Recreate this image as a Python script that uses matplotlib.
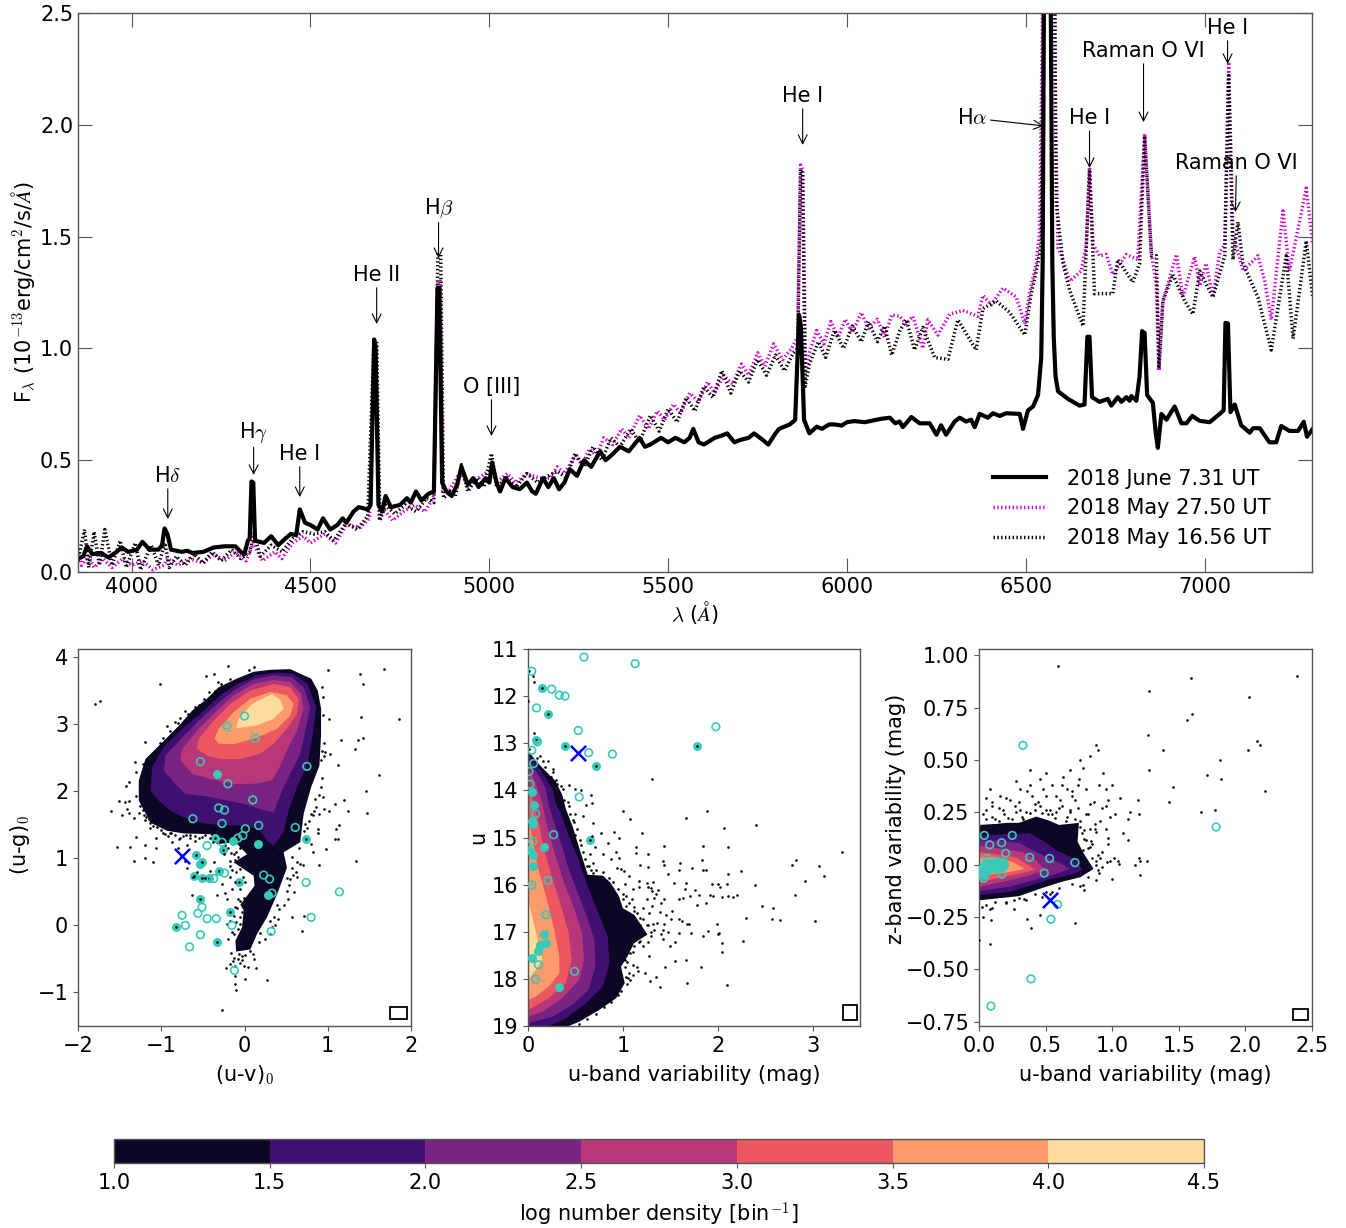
import numpy as np
import matplotlib
matplotlib.use('Agg')
import matplotlib.pyplot as plt
from matplotlib.colors import ListedColormap, BoundaryNorm
from matplotlib.cm import ScalarMappable
from matplotlib.patches import Rectangle

plt.rcParams['font.size'] = 15
plt.rcParams['mathtext.fontset'] = 'cm'
for k in ['axes.edgecolor', 'xtick.color', 'ytick.color']:
    plt.rcParams[k] = '#555555'
plt.rcParams['xtick.labelcolor'] = 'k'
plt.rcParams['ytick.labelcolor'] = 'k'
plt.rcParams['axes.linewidth'] = 1.0

W, H = 1346, 1228

# spectra: wavelength (A), flux
june = np.array([
    (3850,.06),(3865,.07),(3875,.115),(3890,.08),(3915,.085),(3935,.065),(3958,.09),(3972,.11),(3990,.09),(4015,.10),
    (4030,.135),(4050,.10),(4075,.10),(4085,.12),(4092,.195),(4100,.17),(4110,.10),(4125,.095),(4140,.09),(4155,.095),(4170,.085),(4200,.09),
    (4230,.11),(4260,.115),(4290,.115),(4305,.09),(4315,.08),(4325,.14),(4330,.15),(4335,.405),(4340,.40),(4345,.14),(4370,.13),
    (4390,.16),(4410,.12),(4430,.15),(4445,.17),(4460,.165),(4470,.28),(4485,.22),(4500,.21),(4520,.19),(4535,.24),
    (4555,.19),(4575,.21),(4590,.24),(4600,.22),(4620,.27),(4635,.29),(4660,.28),(4668,.30),(4678,1.04),(4682,1.0),
    (4690,.30),(4700,.27),(4710,.34),(4725,.29),(4750,.30),(4770,.33),(4780,.31),(4795,.36),(4810,.32),(4830,.35),
    (4845,.36),(4855,1.27),(4860,1.27),(4868,.40),(4880,.36),(4895,.34),(4910,.39),(4922,.47),(4940,.39),(4955,.42),
    (4970,.38),(4990,.42),(5000,.40),(5008,.49),(5020,.40),(5030,.36),(5045,.42),(5065,.38),(5085,.37),(5105,.40),
    (5120,.36),(5130,.35),(5150,.42),(5165,.38),(5180,.42),(5195,.37),(5210,.40),(5225,.46),(5245,.43),(5265,.50),
    (5285,.47),(5310,.54),(5325,.50),(5340,.52),(5365,.56),(5390,.54),(5420,.60),(5435,.56),(5450,.57),(5480,.60),(5500,.58),(5520,.60),(5545,.58),
    (5560,.60),(5570,.64),(5585,.58),(5600,.57),(5630,.60),(5650,.61),(5665,.62),(5685,.58),(5700,.59),(5725,.60),(5740,.62),(5765,.59),(5780,.57),(5800,.62),(5810,.64),(5840,.66),(5855,.68),
    (5866,1.15),(5871,1.10),(5880,.68),(5895,.62),(5915,.65),(5930,.64),(5950,.66),(5965,.66),(5985,.655),(6000,.67),(6020,.675),(6050,.67),(6080,.68),(6095,.685),(6120,.69),(6135,.665),
    (6147,.673),(6156,.648),(6180,.693),(6203,.665),(6231,.665),(6250,.614),(6263,.656),(6277,.614),(6301,.673),(6315,.690),
    (6333,.673),(6347,.681),(6357,.648),(6371,.707),(6394,.690),(6408,.710),(6427,.698),(6445,.710),(6483,.707),(6492,.640),
    (6506,.723),(6520,.740),(6534,.791),(6543,.959),(6547,1.38),(6552,3.0),(6557,4.0),(6568,3.0),(6574,1.38),(6578,1.05),(6583,.875),(6590,.808),(6604,.791),
    (6618,.774),(6650,.744),(6664,.749),(6672,1.052),(6678,1.052),(6685,.782),(6706,.761),(6729,.774),(6739,.744),(6757,.782),
    (6767,.761),(6781,.782),(6790,.766),(6795,.787),(6809,.766),(6818,.875),(6825,1.077),(6832,1.069),(6839,.791),(6855,.757),
    (6863,.623),(6869,.555),(6879,.707),(6893,.681),(6916,.740),(6935,.665),(6949,.665),(6965,.698),(6986,.676),(7014,.670),
    (7042,.707),(7053,.723),(7058,1.114),(7065,1.111),(7072,.715),(7084,.749),(7102,.656),(7126,.623),(7135,.643),(7154,.643),
    (7181,.580),(7200,.580),(7214,.653),(7237,.631),(7261,.631),(7277,.672),(7286,.605),(7302,.640)])

may27 = np.array([
    (3850,.10),(3860,.03),(3880,.07),(3895,.02),(3920,.06),(3945,.02),(3975,.06),(4000,.03),(4030,.05),(4060,.01),
    (4090,.03),(4100,.06),(4130,.03),(4160,.06),(4200,.04),(4230,.08),(4260,.05),(4290,.09),(4320,.05),(4340,.13),
    (4365,.05),(4400,.09),(4420,.06),(4450,.13),(4480,.16),(4500,.13),(4540,.17),(4570,.13),(4600,.21),(4640,.20),
    (4665,.24),(4678,1.0),(4684,1.02),(4692,.24),(4705,.28),(4730,.23),(4760,.27),(4790,.30),(4820,.27),(4845,.34),
    (4856,1.3),(4863,1.3),(4870,.36),(4890,.37),(4920,.45),(4940,.38),(4970,.42),(5005,.46),(5020,.40),(5050,.44),
    (5075,.40),(5105,.44),(5140,.42),(5170,.42),(5190,.47),(5210,.44),(5240,.52),(5260,.48),(5280,.55),(5300,.52),
    (5320,.60),(5345,.57),(5370,.64),(5390,.60),(5420,.70),(5445,.64),(5470,.72),(5490,.68),(5515,.75),(5535,.71),
    (5560,.80),(5585,.76),(5610,.85),(5630,.80),(5655,.88),(5680,.84),(5705,.93),(5725,.88),(5750,.98),(5770,.92),
    (5795,1.02),(5820,.95),(5845,1.0),(5862,1.05),(5870,1.82),(5876,1.80),(5884,.90),(5895,.98),(5915,1.08),(5935,1.02),
    (5955,1.12),(5975,1.05),(5995,1.13),(6015,1.07),(6040,1.16),(6060,1.09),(6085,1.13),(6105,1.05),(6125,1.15),
    (6147,1.144),(6166,1.11),(6184,1.144),(6212,1.0),(6226,1.128),(6254,1.06),(6287,1.153),(6324,1.17),(6366,1.144),(6380,1.237),
    (6403,1.195),(6436,1.27),(6473,1.23),(6497,1.11),(6510,1.245),(6529,1.38),(6538,1.515),(6546,2.4),(6552,4.0),(6578,4.0),
    (6583,2.0),(6590,1.45),(6604,1.397),(6622,1.30),(6655,1.346),(6669,1.464),(6678,1.81),(6688,1.464),(6706,1.414),(6725,1.42),
    (6743,1.33),(6781,1.42),(6813,1.397),(6832,1.96),(6851,1.43),(6865,1.28),(6872,.90),(6883,1.21),(6921,1.42),(6939,1.23),
    (6972,1.41),(6986,1.28),(7004,1.38),(7023,1.23),(7042,1.43),(7056,1.464),(7067,2.28),(7079,1.515),(7107,1.346),(7149,1.414),
    (7168,1.30),(7186,1.128),(7219,1.615),(7237,1.346),(7284,1.717),(7302,1.464)])

may16 = np.array([
    (3850,.05),(3868,.19),(3880,.02),(3895,.18),(3910,.03),(3925,.19),(3945,.03),(3968,.14),(3985,.02),(4010,.13),
    (4025,.01),(4055,.12),(4075,.03),(4093,.13),(4105,.02),(4125,.07),(4150,.03),(4175,.08),(4200,.04),(4225,.09),
    (4250,.05),(4280,.10),(4305,.06),(4330,.09),(4342,.17),(4360,.07),(4390,.12),(4420,.09),(4450,.15),(4480,.18),
    (4510,.17),(4540,.18),(4565,.14),(4600,.22),(4630,.19),(4660,.25),(4677,1.02),(4685,1.03),(4694,.23),(4710,.30),
    (4735,.26),(4765,.30),(4795,.27),(4825,.33),(4845,.31),(4856,1.42),(4864,1.42),(4872,.33),(4890,.36),(4905,.34),
    (4922,.48),(4940,.36),(4965,.42),(4985,.38),(5006,.53),(5020,.38),(5050,.42),(5075,.38),(5105,.44),(5135,.40),
    (5165,.43),(5190,.45),(5215,.42),(5240,.53),(5265,.47),(5290,.56),(5315,.50),(5340,.60),(5365,.56),(5395,.64),
    (5420,.58),(5450,.70),(5475,.63),(5500,.73),(5525,.67),(5550,.78),(5575,.72),(5600,.83),(5625,.78),(5650,.90),
    (5675,.80),(5700,.90),(5725,.85),(5750,.95),(5775,.88),(5800,.97),(5825,.90),(5850,.98),(5862,1.0),(5870,1.80),
    (5876,1.78),(5883,.83),(5895,.93),(5920,1.03),(5940,.96),(5965,1.08),(5990,1.0),(6015,1.10),(6040,1.03),(6060,1.12),
    (6085,1.03),(6105,1.10),(6125,.97),(6147,1.077),(6166,1.128),(6189,.993),(6212,1.094),(6245,.959),(6282,.951),(6310,1.128),
    (6361,.993),(6380,1.178),(6417,1.212),(6455,1.161),(6497,1.06),(6515,1.245),(6529,1.346),(6543,1.464),(6548,2.4),(6553,4.0),
    (6578,4.0),(6581,2.4),(6585,1.65),(6604,1.38),(6622,1.262),(6660,1.10),(6667,1.38),(6678,1.80),(6692,1.245),(6720,1.245),
    (6743,1.245),(6757,1.397),(6799,1.296),(6818,1.38),(6832,1.95),(6851,1.414),(6865,1.414),(6872,.91),(6883,1.212),(6911,1.33),
    (6944,1.212),(6967,1.153),(6986,1.346),(7023,1.228),(7056,1.414),(7067,2.22),(7079,1.397),(7093,1.565),(7107,1.38),(7149,1.228),
    (7186,.993),(7228,1.414),(7247,1.043),(7284,1.481),(7302,1.228)])

# line label, text x, text y, tip x, tip y
line_labels = [
    ('H$\\delta$', 4101, .429, 4101, .237),
    ('H$\\gamma$', 4341, .626, 4341, .434),
    ('He I', 4470, .528, 4470, .335),
    ('He II', 4685, 1.328, 4685, 1.109),
    ('H$\\beta$', 4858, 1.628, 4858, 1.404),
    ('O [III]', 5006, .827, 5006, .608),
    ('He I', 5876, 2.129, 5876, 1.91),
    ('H$\\alpha$', 6351, 2.03, 6550, 1.995),
    ('He I', 6678, 2.03, 6678, 1.807),
    ('Raman O VI', 6829, 2.33, 6829, 2.012),
    ('He I', 7064, 2.433, 7064, 2.272),
    ('Raman O VI', 7089, 1.829, 7086, 1.61),
]

levels = [1.0, 1.5, 2.0, 2.5, 3.0, 3.5, 4.0, 4.5]
level_colors = ['#0b0724', '#3f0f72', '#7b2382', '#b73779', '#ec5760', '#fd9b6b', '#fddc9e']

# density regions of the u-g / u-v panel, one per level
cc_regions = [
    [(-1.27,2.16),(-1.19,2.48),(-.97,2.75),(-.77,3.00),(-.63,3.20),(-.45,3.38),(-.31,3.55),(-.09,3.68),(.11,3.78),(.31,3.81),
     (.55,3.82),(.67,3.75),(.80,3.68),(.88,3.50),(.92,3.23),(.92,2.85),(.90,2.38),(.80,2.06),(.71,1.66),(.67,1.24),(.47,1.09),
     (.51,.86),(.39,.46),(.27,.12),(.15,-.13),(.07,-.36),(-.10,-.39),(-.11,-.23),(-.03,-.03),(-.01,.22),(-.05,.31),(.03,.44),
     (.12,.59),(.11,.74),(-.13,.94),(.03,1.06),(-.11,1.24),(-.33,1.21),(-.41,1.36),(-.73,1.37),(-.93,1.41),(-1.13,1.53),(-1.27,1.86)],
    [(-1.13,2.01),(-1.11,2.36),(-.97,2.66),(-.73,2.95),(-.49,3.20),(-.29,3.43),(-.09,3.60),(.15,3.73),(.39,3.77),(.59,3.75),
     (.76,3.60),(.86,3.25),(.82,2.85),(.76,2.41),(.63,2.06),(.53,1.71),(.47,1.39),(.35,1.19),(.27,1.26),(.17,1.44),(-.05,1.49),
     (-.25,1.49),(-.49,1.52),(-.73,1.61),(-.89,1.71),(-1.03,1.86)],
    [(-.97,2.31),(-.95,2.53),(-.75,2.80),(-.55,3.05),(-.33,3.30),(-.13,3.50),(.09,3.66),(.35,3.73),(.57,3.70),(.71,3.55),
     (.79,3.25),(.73,2.90),(.67,2.56),(.55,2.26),(.45,2.01),(.35,1.68),(.19,1.73),(-.01,1.81),(-.21,1.86),(-.49,1.93),(-.71,1.96),(-.85,2.13)],
    [(-.77,2.46),(-.75,2.63),(-.55,2.93),(-.33,3.20),(-.13,3.43),(.11,3.60),(.35,3.66),(.55,3.63),(.68,3.45),(.71,3.23),
     (.63,2.90),(.51,2.61),(.41,2.33),(.33,2.16),(.11,2.11),(-.13,2.11),(-.41,2.18),(-.63,2.26)],
    [(-.57,2.63),(-.55,2.78),(-.37,3.05),(-.17,3.30),(.07,3.50),(.35,3.60),(.55,3.55),(.65,3.38),(.63,3.15),(.51,2.93),
     (.35,2.71),(.19,2.56),(-.05,2.48),(-.29,2.48),(-.45,2.53)],
    [(-.36,2.78),(-.31,2.93),(-.13,3.18),(.07,3.38),(.31,3.48),(.51,3.43),(.59,3.30),(.55,3.13),(.39,2.93),(.15,2.80),(-.13,2.70),(-.31,2.71)],
    [(-.10,2.94),(-.07,3.08),(.09,3.30),(.33,3.45),(.43,3.36),(.47,3.23),(.35,3.08),(.15,2.98)],
]
cc_black = [
    (-1.80,3.30),(-1.73,3.34),(-1.01,3.60),(-.46,3.72),(-.37,3.75),(-.20,3.86),(-.17,3.67),(-.32,3.63),(-.43,3.48),(-.49,3.37),
    (-.72,3.20),(-.77,3.09),(-.84,3.03),(-.93,2.97),(-.98,2.79),(-1.20,2.74),(-1.31,2.43),(-1.39,2.14),(-1.42,2.08),(-1.30,1.93),
    (-1.51,1.85),(-1.44,1.84),(-1.39,1.86),(-1.60,1.71),(-1.41,1.74),(-1.47,1.64),(-1.39,1.67),(-1.33,1.60),(-1.27,1.68),(-1.21,1.65),
    (-1.19,1.57),(-1.13,1.53),(-1.13,1.45),(-1.30,1.32),(-1.19,1.20),(-1.53,1.17),(-1.38,1.17),(-1.06,1.16),(-1.06,1.30),(-1.33,.96),
    (-1.19,1.01),(-1.10,.94),(-.95,1.36),(-.89,1.37),(-.79,1.29),(-.87,1.24),(-.80,1.16),(-.69,1.20),(-.65,1.35),(-.59,1.26),
    (-.51,1.32),(-.76,1.02),(-.71,.96),(1.00,3.80),(1.39,3.75),(1.42,3.60),(1.68,3.82),(1.40,3.11),(1.85,3.08),(1.02,3.08),
    (.94,3.13),(1.16,2.77),(1.36,2.77),(1.42,2.79),(1.33,2.63),(.97,2.59),(1.03,2.55),(.96,2.53),(.92,2.46),(1.12,2.39),
    (1.62,2.24),(.92,2.06),(.94,1.91),(1.46,2.0),(1.47,1.68),(1.19,1.87),(1.09,1.81),(1.24,1.71),(.96,1.73),(1.02,1.71),
    (.86,1.76),(.84,1.71),(.80,1.66),(.90,1.66),(.73,1.51),(.88,1.44),(1.14,1.49),(1.10,1.44),(1.12,1.29),(1.09,1.29),
    (.88,1.37),(.80,1.21),(.98,1.14),(.65,1.16),(.57,1.02),(.82,1.09),(.90,.90),(1.34,.96),(.63,.94),(.57,.86),
    (.67,.92),(.55,.69),(.63,.72),(.51,.70),(.51,.51),(.60,.50),(.52,.39),(.71,.14),(.57,.12),(.69,-.09),
    (.39,.31),(.36,.12),(.37,.01),(.31,.07),(.31,-.13),(.19,-.11),(-.05,1.16),(-.13,1.06),(-.17,.96),(-.37,.94),
    (-.41,.81),(-.57,.79),(-.69,.86),(-.25,1.06),(-.15,.82),(-.27,.61),(-.15,.54),(-.05,.54),(-.01,.41),(-.05,.36),
    (-.21,.39),(-.24,.49),(-.33,.46),(-.63,.46),(-.09,.26),(-.13,.14),(-.05,.12),(-.17,.07),(-.21,.02),(-.13,-.13),
    (-.16,-.41),(-.07,-.43),(-.03,-.46),(.07,-.38),(-.13,-.48),(-.05,-.56),(-.11,-.61),(-.17,-.58),(-.22,-.63),(-.01,-.61),
    (.04,-.62),(.14,-.63),(-.11,-.76),(.01,-.80),(.27,-.81),(-.12,-.88),(-.10,-.97),(-.27,-1.26),
    (-.82,-.02),(-.33,-.25),(-.53,.40),(-.18,.20),(-.58,1.05),(-.51,.94),(-.61,.73),(-.51,.71),(-.43,.70),(-.31,.81),
    (-.07,.65),(-.26,1.12),(-.35,1.31),(.74,1.29),(-.62,.72),(-.48,.70),(-.23,1.20),(.02,1.02),(-.18,.72),(.42,1.05),
    (-1.25,1.78),(-1.22,1.72),(-1.18,1.62),(-1.15,1.58),(-1.10,1.48),(-1.05,1.47),(-1.0,1.42),(-.98,1.38),(-.92,1.33),(-.88,1.38),
    (-.84,1.34),(-.78,1.31),(-.74,1.33),(-.70,1.34),(-.65,1.30),(-.6,1.33),(-.55,1.30),(-.47,1.34),(-.42,1.30),(-.38,1.24),
    (-.20,1.15),(-.16,1.08),(-.10,1.10),(-.08,1.02),(-.12,.98),(-.18,.88),(-.10,.80),(-.06,.84),(-.02,.72),(-.12,.64),
    (.0,.65),(.06,.45),(.0,.35),(-.08,.40),(-.12,.28),(-.03,.2),(-.1,.05),(-.05,.02),(-.08,-.05),(-.15,-.1),
    (-.2,-.2),(.72,1.4),(.75,1.45),(.78,1.55),(.82,1.65),(.85,1.88),(.9,1.95),(.93,2.2),(.93,2.6),(.95,2.72),
    (.94,3.4),(.93,3.55),(.7,.9),(.62,.8),(.58,.75),(.54,.6),(.48,.3),(.42,.25),(.40,.1),(.33,-.03),
    (.25,-.2),(.17,-.25),(.1,-.42),(.12,-.5),(.0,-.44),(-.03,-.52),(-.08,-.5),(-.14,-.53),
    (-.55,3.28),(-.6,3.25),(-.68,3.15),(-.8,3.02),(-.9,2.9),(-1.02,2.72),(-1.22,2.4),(-1.3,2.28),(-.35,3.5),(-.28,3.6),(.05,3.8),(.12,3.85),
]
cc_open = [
    (-.21,2.97),(.00,3.12),(.13,2.79),(-.53,2.44),(.75,2.37),(-.20,2.11),(.10,1.87),(-.31,1.75),(-.24,1.72),(-.62,1.59),
    (-.27,1.52),(.17,1.49),(.61,1.46),(.01,1.44),(-.02,1.34),(-.08,1.30),(-.27,1.24),(-.45,1.19),(-.37,.70),(-.24,.78),
    (.23,.75),(.30,.69),(.74,.64),(1.14,.50),(.33,.48),(-.51,.27),(-.56,.18),(-.75,.15),(-.71,0),(-.45,.10),
    (-.34,.10),(-.15,0),(-.53,-.14),(-.66,-.32),(.32,-.09),(.80,.12),(-.12,-.67)]
cc_filled = [
    (-.33,2.26),(-.14,1.26),(-.35,1.31),(.16,1.21),(-.26,1.12),(.74,1.29),(-.58,1.05),(-.51,.94),(-.53,.91),(-.61,.73),
    (-.51,.71),(-.43,.70),(-.31,.81),(-.07,.65),(.28,.45),(-.53,.40),(-.18,.20),(-.82,-.02),(-.33,-.25)]
cc_source = (-.755, 1.03)
cc_box = (1.75, -1.39, .20, .17)

# u magnitude vs u-band variability
um_regions = [
    [(0,13.16),(.10,13.41),(.20,13.62),(.29,13.80),(.36,14.09),(.40,14.40),(.47,14.76),(.54,15.22),(.63,15.79),(.79,15.81),
     (.87,15.96),(.96,16.25),(1.00,16.50),(1.12,16.64),(1.26,17.06),(1.12,17.24),(1.05,17.52),(.98,17.74),(1.02,18.09),(.93,18.41),
     (.75,18.66),(.54,18.91),(.43,19.0),(0,19.0)],
    [(0,13.23),(.08,13.45),(.15,13.62),(.26,13.98),(.29,14.26),(.36,14.55),(.43,14.97),(.52,15.40),(.63,16.04),(.75,16.64),
     (.84,17.10),(.86,17.67),(.79,18.16),(.61,18.52),(.40,18.84),(.22,19.0),(0,19.0)],
    [(0,13.38),(.12,13.70),(.19,13.98),(.22,14.33),(.29,14.76),(.36,15.18),(.43,15.68),(.54,16.25),(.63,16.74),(.70,17.17),
     (.71,17.74),(.64,18.23),(.47,18.55),(.26,18.80),(0,18.94)],
    [(0,13.52),(.08,13.84),(.15,14.26),(.20,14.76),(.29,15.40),(.38,15.96),(.49,16.53),(.57,17.03),(.59,17.60),(.54,18.02),
     (.36,18.41),(.15,18.70),(0,18.80)],
    [(0,13.84),(.06,14.26),(.12,14.76),(.17,15.26),(.26,15.89),(.36,16.53),(.43,17.03),(.46,17.60),(.40,18.09),(.22,18.41),(0,18.67)],
    [(0,14.55),(.05,15.04),(.10,15.61),(.19,16.25),(.27,16.89),(.33,17.52),(.33,17.88),(.22,18.16),(.08,18.38),(0,18.45)],
    [(0,16.32),(.06,16.82),(.12,17.31),(.15,17.60),(.08,17.81),(0,18.02)],
]
um_black = [
    (.01,11.46),(.05,11.57),(.06,11.70),(0,12.11),(.06,12.79),(.08,12.91),(.01,13.13),(.13,13.27),(.16,13.38),(.21,13.38),
    (.26,13.55),(.26,13.62),(.30,13.77),(.35,13.91),(.43,13.89),(.50,13.98),(.56,13.99),(.66,14.09),(.67,14.26),(.61,14.32),
    (.50,14.51),(.58,14.55),(.43,14.33),(.47,14.62),(.68,14.70),(.77,14.90),(.67,14.97),(.55,15.06),(.84,15.11),(.91,14.89),
    (.96,15.01),(.71,15.20),(.79,15.35),(.65,15.36),(.87,15.45),(.93,15.30),(.96,15.43),(.69,15.55),(.64,15.61),(.66,15.70),
    (.79,15.73),(.94,15.65),(.98,15.67),(1.01,15.72),(1.06,15.82),(1.0,14.44),(1.08,14.60),(1.20,14.91),(1.14,15.20),(1.14,15.33),
    (1.26,15.36),(1.18,15.59),(1.27,15.62),(1.31,13.75),(1.43,15.17),(1.42,15.50),(1.43,15.59),(1.60,15.55),(1.48,15.77),(1.59,15.70),
    (1.73,15.65),(1.67,14.58),(1.89,14.43),(2.07,14.80),(2.40,14.73),(1.84,15.17),(2.11,15.21),(1.83,15.48),(1.85,15.70),(1.88,15.69),
    (2.11,15.77),(2.25,15.72),(2.39,16.0),(2.78,15.58),(2.83,15.48),(3.07,15.60),(3.12,15.82),(3.31,15.30),(2.92,15.92),(2.82,16.22),
    (2.47,16.45),(2.58,16.50),(2.57,16.72),(2.66,16.76),(3.03,16.78),(2.30,16.70),(2.27,17.19),(1.99,16.83),(2.0,17.05),(2.01,17.03),
    (2.04,17.24),(2.05,17.43),(1.82,17.75),(2.10,18.13),(1.67,17.61),(1.55,17.62),(1.68,18.09),(1.39,18.18),(1.35,17.95),(1.29,18.04),
    (1.08,18.02),(1.03,17.96),(1.23,17.87),(1.15,17.75),(1.16,17.84),(1.11,17.70),(1.04,17.65),(1.11,17.91),(1.06,17.88),(1.28,17.52),
    (1.44,17.74),(1.21,17.31),(1.11,17.42),(1.17,17.21),(1.27,17.21),(1.33,16.96),(1.42,17.15),(1.50,17.30),(1.55,17.21),(1.59,17.03),
    (1.72,17.03),(1.85,17.10),(1.90,16.99),(1.21,16.73),(1.31,16.46),(1.39,16.59),(1.32,16.84),(1.26,16.85),(1.36,16.82),(1.43,16.83),
    (1.42,16.96),(1.52,16.55),(1.51,16.73),(1.59,16.74),(1.62,16.78),(1.68,16.83),(1.70,16.83),(1.15,16.60),(1.12,16.48),(1.21,16.50),
    (1.06,16.39),(1.03,16.25),(1.0,16.19),(1.11,16.09),(1.17,16.05),(1.26,16.05),(1.30,16.07),(1.31,16.14),(1.37,16.11),(1.33,16.28),
    (1.43,16.30),(1.59,16.30),(1.63,16.28),(1.71,16.25),(1.80,16.23),(1.92,16.21),(1.95,16.25),(2.05,16.26),(2.11,16.25),(2.16,16.27),
    (2.20,16.21),(1.78,16.43),(1.88,16.40),(1.65,16.09),(1.76,16.12),(1.94,15.99),(2.0,15.99),(2.02,16.04),(2.10,15.99),(1.54,15.96),
    (1.67,15.96),(1.17,15.93),(1.25,15.96),(1.32,15.94),(1.02,15.99),(.15,11.82),(.21,12.38),(.39,13.06),(1.78,13.06),(.72,13.48),(.65,15.06),
    (.10,13.32),(.18,13.5),(.24,13.72),(.31,13.86),(.37,13.98),(.38,14.2),(.42,14.25),(.44,14.5),(.48,14.68),(.52,14.82),
    (.5,14.95),(.56,15.15),(.58,15.3),(.6,15.45),(.62,15.6),(.68,15.75),(.72,15.7),(.85,15.85),(.9,15.95),(.95,16.1),
    (1.0,16.3),(1.03,16.45),(1.12,16.55),(1.18,16.7),(1.25,16.85),(1.3,17.0),(1.30,17.1),(1.18,17.2),(1.12,17.3),(1.08,17.45),
    (1.02,17.6),(1.02,17.75),(1.05,17.98),(1.04,18.1),(.98,18.25),(.95,18.35),(.88,18.5),(.8,18.6),(.72,18.75),(.62,18.85),(.54,18.95),
    (1.35,16.2),(1.4,16.4),(1.45,16.65),(1.28,16.6),(1.1,16.3),(1.25,16.3),(1.18,16.85),(1.4,17.05),(1.48,17.0),
]
um_open = [
    (.59,11.17),(1.13,11.31),(.04,11.47),(.25,11.85),(.33,11.98),(.39,12.0),(.09,12.25),(.53,12.73),(1.98,12.65),(.10,12.97),
    (.04,13.15),(.64,13.20),(.89,13.23),(.06,13.43),(.01,13.60),(.02,13.87),(.54,14.14),(.08,14.50),(.05,15.08),(.27,14.94),
    (.21,15.91),(.04,16.01),(.19,16.64),(.11,17.70),(.49,17.84),(.08,18.01)]
um_filled = [
    (.15,11.82),(.21,12.38),(.08,12.94),(.39,13.06),(1.78,13.06),(.72,13.48),(.65,15.06),(.04,14.04),(.06,14.30),(.04,14.65),
    (.05,14.72),(.17,15.21),(.05,15.38),(.05,15.61),(.01,15.26),(.17,17.04),(.19,17.23),(.13,17.28),(.11,17.40),(.04,17.56),(.33,18.17)]
um_source = (.53, 13.21)
um_box = (3.32, 18.55, .15, .32)

# z-band vs u-band variability
zu_regions = [
    [(0,.19),(.13,.195),(.21,.20),(.30,.20),(.43,.23),(.53,.21),(.60,.19),(.68,.195),(.75,.20),(.74,.11),(.79,.05),(.86,-.02),
     (.76,-.06),(.63,-.08),(.48,-.11),(.30,-.15),(.15,-.16),(0,-.17)],
    [(0,.14),(.18,.145),(.38,.15),(.48,.115),(.58,.07),(.71,.03),(.78,-.025),(.68,-.05),(.53,-.07),(.38,-.10),(.23,-.13),(0,-.145)],
    [(0,.115),(.15,.115),(.30,.105),(.43,.06),(.53,.03),(.62,.005),(.68,-.02),(.55,-.05),(.40,-.075),(.23,-.105),(0,-.125)],
    [(0,.09),(.18,.075),(.33,.06),(.43,.02),(.50,-.025),(.38,-.05),(.23,-.075),(0,-.105)],
    [(0,.06),(.13,.05),(.28,.035),(.38,-.005),(.42,-.025),(.28,-.045),(.13,-.065),(0,-.085)],
    [(0,.035),(.13,.035),(.25,.015),(.34,-.02),(.23,-.035),(.10,-.045),(0,-.06)],
    [(0,.01),(.11,-.005),(.18,-.02),(.08,-.03),(0,-.04)],
]
zu_black = [
    (.59,.95),(1.28,.83),(1.59,.89),(2.39,.90),(2.03,.80),(1.60,.72),(1.56,.69),(.88,.57),(.89,.55),(.83,.52),
    (1.27,.62),(1.38,.55),(2.09,.59),(2.11,.57),(1.81,.50),(2.02,.55),(2.15,.35),(1.46,.37),(1.28,.45),(1.71,.43),
    (1.82,.41),(1.06,.32),(1.19,.31),(1.43,.30),(1.77,.26),(1.20,.24),(1.13,.25),(1.12,.22),(1.67,.25),(.95,.36),
    (1.0,.38),(.68,.45),(.46,.41),(.62,.38),(.38,.45),(.31,.36),(.76,.50),(.80,.36),(.72,.31),(.23,.31),
    (.16,.33),(.05,.26),(.08,.36),(.91,.21),(.83,.29),(.97,.31),(.61,.31),(.50,.33),(.42,.29),(.53,.26),
    (.31,.26),(.68,.26),(.80,.24),(.87,.17),(.95,.17),(.83,.17),(.98,.02),(.97,.13),(1.04,.02),(.91,.03),
    (1.17,0),(1.21,.02),(1.26,.02),(1.0,-.07),(.76,.21),(.87,.195),(.88,.155),(.84,.115),(.79,.165),(.79,.125),
    (.83,.085),(.78,.07),(.89,.045),(.88,.02),(.96,.015),(1.01,.03),(1.05,.005),(.89,-.025),(.88,-.075),(1.21,-.05),
    (1.20,.03),(.76,-.10),(.79,-.12),(.78,-.095),(.55,-.13),(.53,-.14),(.26,-.21),(.20,-.185),(.30,-.16),(.10,-.205),
    (.08,-.21),(.03,-.25),(.09,-.265),(.36,-.26),(.39,-.30),(.46,-.24),(.72,-.28),(0,-.36),(.08,-.38),(.47,-.155),
    (.26,-.17),(.34,-.165),(.10,.28),(.18,.26),(.27,.28),(.35,.25),(.44,.30),(.52,.24),(.60,.27),(.66,.23),
    (.70,.33),(.74,.27),(.82,.24),(.92,.27),(.98,.23),(.12,.22),(.22,.225),(.33,.22),(.47,.245),(.57,.225),
    (.65,.21),(.85,.10),(.92,.06),(.97,.10),(.03,.24),(.36,.35),(.55,.38),(.63,.42),(.75,.41),(.93,.44),
    (.05,.22),(.1,.23),(.15,.21),(.19,.24),(.25,.22),(.28,.25),(.32,.23),(.38,.245),(.42,.26),(.46,.28),
    (.5,.26),(.55,.24),(.58,.25),(.62,.28),(.68,.25),(.72,.22),(.76,.18),(.77,.15),(.8,.12),(.82,.08),
    (.85,.03),(.88,0),(.92,-.01),(.9,-.04),(.82,-.06),(.7,-.09),(.6,-.11),(.5,-.13),(.42,-.14),(.35,-.17),
    (.2,-.18),(.12,-.18),(.05,-.19),(.02,-.2),(.1,.3),(.2,.32),(.3,.3),(.4,.33),(.48,.36),(.58,.33),
    (.66,.36),(.74,.38),(.78,.46),(.86,.3),(.9,.38),(.95,.28),(1.02,.24),(1.08,.15),(1.12,.12),(.15,.27),
    (.28,.4),(.38,.38),(.05,.32),(.5,.44),(.7,.35),
]
zu_open = [
    (.04,.14),(.08,.095),(.17,.105),(.25,.14),(.20,.055),(.38,.035),(.53,.03),(.72,.01),(.49,-.04),(.06,.03),
    (.17,-.045),(.035,-.065),(.59,-.19),(.54,-.26),(.39,-.545),(.09,-.675),(.33,.57),(1.78,.18)]
zu_filled = [
    (.04,0),(.03,-.01),(.06,-.03),(.10,.005),(.14,.01),(.16,0),(.19,0),(.15,-.02),(.05,.01),(.01,-.04),
    (.13,.02),(.04,-.05),(.18,.015),(.08,-.01),(.11,-.015),(.01,-.02)]
zu_source = (.53, -.17)
zu_box = (2.36, -.74, .11, .053)

fig = plt.figure(figsize=(W / 100, H / 100), dpi=100)

def axes_px(x0, y0, x1, y1):
    return fig.add_axes([x0 / W, 1 - y1 / H, (x1 - x0) / W, (y1 - y0) / H])

# spectrum panel
ax = axes_px(78, 13, 1312, 572)
dots = (0, (0.4, 0.7))
ax.plot(may27[:, 0], may27[:, 1], color='#d000d0', lw=2.5, ls=dots, label='2018 May 27.50 UT')
ax.plot(may16[:, 0], may16[:, 1], color='k', lw=2.5, ls=dots, label='2018 May 16.56 UT')
ax.plot(june[:, 0], june[:, 1], color='k', lw=3, label='2018 June 7.31 UT')
ax.set_xlim(3850, 7300)
ax.set_ylim(0, 2.5)
ax.set_xticks(range(4000, 7001, 500))
ax.set_xlabel('$\\lambda$ ($\\AA$)', labelpad=1.5)
ax.set_ylabel('F$_\\lambda$ (10$^{\\mathsf{-13}}$erg/cm$^{\\mathsf{2}}$/s/$\\AA$)', labelpad=1.5)
ax.tick_params(direction='in', length=10, top=True, right=True)
for label, tx, ty, x, y in line_labels:
    ax.annotate(label, xy=(x, y), xytext=(tx, ty), ha='center', va='center',
                arrowprops=dict(arrowstyle='->', lw=0.8, mutation_scale=16, shrinkA=0, shrinkB=0))
h, l = ax.get_legend_handles_labels()
ax.legend([h[2], h[0], h[1]], [l[2], l[0], l[1]], frameon=False, loc='lower right', bbox_to_anchor=(0.982, 0.009),
          handlelength=2.55, handletextpad=1.0, labelspacing=0.47, fontsize=15)

def density_panel(ax, regions, black, opened, filled, source, box):
    for reg, col in zip(regions, level_colors):
        xy = np.array(reg)
        ax.fill(xy[:, 0], xy[:, 1], color=col, lw=0, zorder=1)
    f = np.array(filled)
    ax.scatter(f[:, 0], f[:, 1], s=42, color='#38c9b9', lw=0, zorder=3)
    b = np.array(black)
    ax.scatter(b[:, 0], b[:, 1], s=3.5, color='k', lw=0, zorder=4)
    o = np.array(opened)
    ax.scatter(o[:, 0], o[:, 1], s=30, facecolors='none', edgecolors='#38c9b9', lw=1.2, zorder=5)
    ax.scatter([source[0]], [source[1]], marker='x', s=120, color='b', lw=1.8, zorder=6)
    ax.add_patch(Rectangle(box[:2], box[2], box[3], fill=False, ec='k', lw=1.3, zorder=6))

ax1 = axes_px(78, 649, 411, 1026)
density_panel(ax1, cc_regions, cc_black, cc_open, cc_filled, cc_source, cc_box)
ax1.set_xlim(-2, 2)
ax1.set_ylim(-1.5, 4.12)
ax1.set_xticks([-2, -1, 0, 1, 2])
ax1.set_yticks([-1, 0, 1, 2, 3, 4])
ax1.set_xlabel('(u-v)$_{\\mathsf{0}}$', labelpad=5.5)
ax1.set_ylabel('(u-g)$_{\\mathsf{0}}$', y=.48)

ax2 = axes_px(528, 649, 860, 1026)
density_panel(ax2, um_regions, um_black, um_open, um_filled, um_source, um_box)
ax2.set_xlim(0, 3.5)
ax2.set_ylim(19, 11)
ax2.set_xticks([0, 1, 2, 3])
ax2.set_yticks(range(11, 20))
ax2.set_xlabel('u-band variability (mag)', labelpad=6.5)
ax2.set_ylabel('u', labelpad=2.5)

ax3 = axes_px(979, 649, 1312, 1026)
density_panel(ax3, zu_regions, zu_black, zu_open, zu_filled, zu_source, zu_box)
ax3.set_xlim(0, 2.5)
ax3.set_ylim(-.77, 1.03)
ax3.set_xticks([0, .5, 1, 1.5, 2, 2.5])
ax3.set_yticks([-.75, -.5, -.25, 0, .25, .5, .75, 1])
ax3.set_yticklabels(['%.2f' % v if v >= 0 else '\u2212%.2f' % -v for v in ax3.get_yticks()])
ax3.set_xlabel('u-band variability (mag)', labelpad=6.5)
ax3.set_ylabel('z-band variability (mag)', labelpad=-0.5, y=.55)

# colorbar
cax = axes_px(114, 1139, 1204, 1163)
sm = ScalarMappable(norm=BoundaryNorm(levels, len(level_colors)), cmap=ListedColormap(level_colors))
cb = fig.colorbar(sm, cax=cax, orientation='horizontal', ticks=levels)
cb.ax.set_xticklabels(['%.1f' % v for v in levels])
cb.set_label('log number density [bin$^{\\mathsf{-1}}$]', labelpad=6)

fig.savefig('out.png', dpi=100)
